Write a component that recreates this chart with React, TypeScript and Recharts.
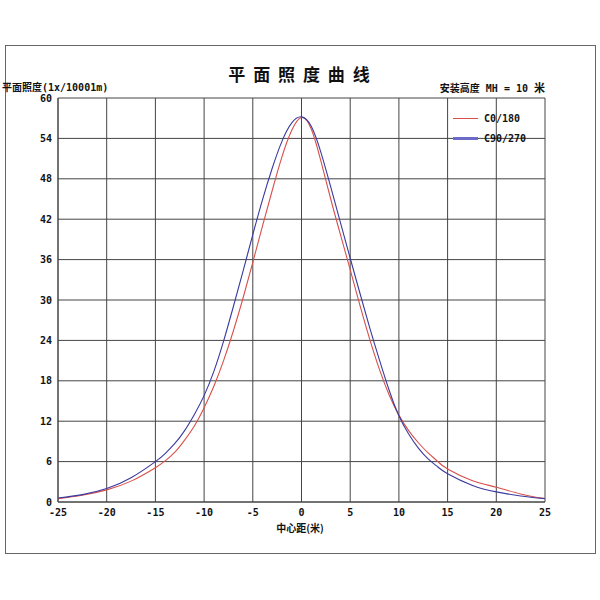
import React from "react";
import { LineChart, Line, XAxis, YAxis, CartesianGrid } from "recharts";

// Distance from centre (m)
const distances = [-25, -22.5, -20, -17.5, -15, -14, -13, -12, -11, -10, -9, -8, -7, -6, -5, -4, -3, -2, -1, 0, 1, 2, 3, 4, 5, 6, 7, 8, 9, 10, 11, 12, 13, 14, 15, 17.5, 20, 22.5, 25];
// Illuminance (lx/1000 lm)
const c0Values = [0.5, 1.0, 1.8, 3.1, 5.1, 6.1, 7.4, 9.2, 11.3, 14.0, 17.2, 21.0, 25.4, 30.3, 35.6, 41.0, 46.3, 51.3, 55.2, 57.1, 55.4, 50.6, 45.0, 39.7, 34.5, 29.2, 24.2, 19.7, 15.9, 12.9, 10.6, 8.8, 7.3, 6.0, 4.9, 3.2, 2.2, 1.2, 0.5];
const c90Values = [0.6, 1.1, 2.0, 3.6, 6.0, 7.2, 8.7, 10.6, 13.0, 15.8, 19.4, 23.9, 29.0, 34.3, 39.7, 44.9, 49.6, 53.6, 56.3, 57.2, 55.8, 51.9, 46.8, 41.5, 36.2, 31.0, 25.9, 21.1, 16.6, 12.8, 10.1, 8.0, 6.4, 5.2, 4.2, 2.5, 1.5, 0.9, 0.5];

const xTicks = [-25, -20, -15, -10, -5, 0, 5, 10, 15, 20, 25];
const yTicks = [0, 6, 12, 18, 24, 30, 36, 42, 48, 54, 60];

const seriesNames = ["C0/180", "C90/270"];
const title = "平 面 照 度 曲 线";
const yUnit = "平面照度";
const yUnitSuffix = "(1x/10001m)";
const heightLabel = "安装高度";
const heightSuffix = " MH = 10 ";
const heightUnit = "米";
const xLabel = "中心距(米)";

const data = distances.map((x, i) => ({ x, c0: c0Values[i], c90: c90Values[i] }));

const RED = "#d8504a";
const BLUE = "#3a3aa0";
const MONO = "'DejaVu Sans Mono', monospace";
const CJK = "'Noto Sans CJK SC', sans-serif";

export default function App() {
  return (
    <div style={{ position: "absolute", left: 0, top: 0, width: 600, height: 600, background: "#fff" }}>
      <div
        style={{
          position: "absolute",
          left: 5,
          top: 45,
          width: 591,
          height: 509,
          border: "1px solid #666",
          boxSizing: "border-box",
        }}
      />
      <div
        style={{
          position: "absolute",
          left: 0,
          width: 600,
          top: 61,
          textAlign: "center",
          fontFamily: CJK,
          fontWeight: "bold",
          fontSize: 17,
          letterSpacing: 2,
          color: "#111",
          whiteSpace: "pre",
        }}
      >
        {title}
      </div>
      <div
        style={{
          position: "absolute",
          left: 2,
          top: 79,
          fontWeight: "bold",
          fontSize: 10,
          color: "#111",
          whiteSpace: "pre",
        }}
      >
        <span style={{ fontFamily: CJK }}>{yUnit}</span>
        <span style={{ fontFamily: MONO }}>{yUnitSuffix}</span>
      </div>
      <div
        style={{
          position: "absolute",
          right: 55,
          top: 79,
          fontWeight: "bold",
          fontSize: 10,
          color: "#111",
          whiteSpace: "pre",
        }}
      >
        <span style={{ fontFamily: CJK }}>{heightLabel}</span>
        <span style={{ fontFamily: MONO }}>{heightSuffix}</span>
        <span style={{ fontFamily: CJK, fontSize: 11 }}>{heightUnit}</span>
      </div>
      <div
        style={{
          position: "absolute",
          left: 0,
          width: 600,
          top: 520,
          textAlign: "center",
          fontFamily: CJK,
          fontWeight: "bold",
          fontSize: 10,
          color: "#111",
        }}
      >
        {xLabel}
      </div>
      <div style={{ position: "absolute", left: 0, top: 0 }}>
        <LineChart width={600} height={600} data={data} margin={{ top: 98, right: 55, bottom: 68, left: 0 }}>
          <CartesianGrid stroke="#444" strokeWidth={1} vertical horizontal />
          <XAxis
            type="number"
            dataKey="x"
            domain={[-25, 25]}
            ticks={xTicks}
            allowDataOverflow
            height={30}
            tickSize={0}
            tickMargin={7}
            axisLine={{ stroke: "#444" }}
            tick={{ fontFamily: MONO, fontSize: 10, fontWeight: "bold", fill: "#111" }}
          />
          <YAxis
            type="number"
            domain={[0, 60]}
            ticks={yTicks}
            allowDataOverflow
            width={58}
            tickSize={0}
            tickMargin={6}
            axisLine={{ stroke: "#444" }}
            tick={{ fontFamily: MONO, fontSize: 10, fontWeight: "bold", fill: "#111" }}
          />
          <Line
            dataKey="c0"
            name={seriesNames[0]}
            type="natural"
            stroke={RED}
            strokeWidth={1.1}
            dot={false}
            isAnimationActive={false}
          />
          <Line
            dataKey="c90"
            name={seriesNames[1]}
            type="natural"
            stroke={BLUE}
            strokeWidth={1.1}
            dot={false}
            isAnimationActive={false}
          />
        </LineChart>
      </div>
      <div
        style={{
          position: "absolute",
          left: 453,
          top: 108,
          fontFamily: MONO,
          fontSize: 10,
          fontWeight: "bold",
          color: "#111",
        }}
      >
        <div style={{ display: "flex", alignItems: "center", height: 20 }}>
          <div style={{ width: 25, height: 0, borderTop: `1px solid ${RED}`, marginRight: 6 }} />
          <span>{seriesNames[0]}</span>
        </div>
        <div style={{ display: "flex", alignItems: "center", height: 20 }}>
          <div style={{ width: 25, height: 0, borderTop: "3px solid #6c6cc8", marginRight: 6 }} />
          <span>{seriesNames[1]}</span>
        </div>
      </div>
    </div>
  );
}
